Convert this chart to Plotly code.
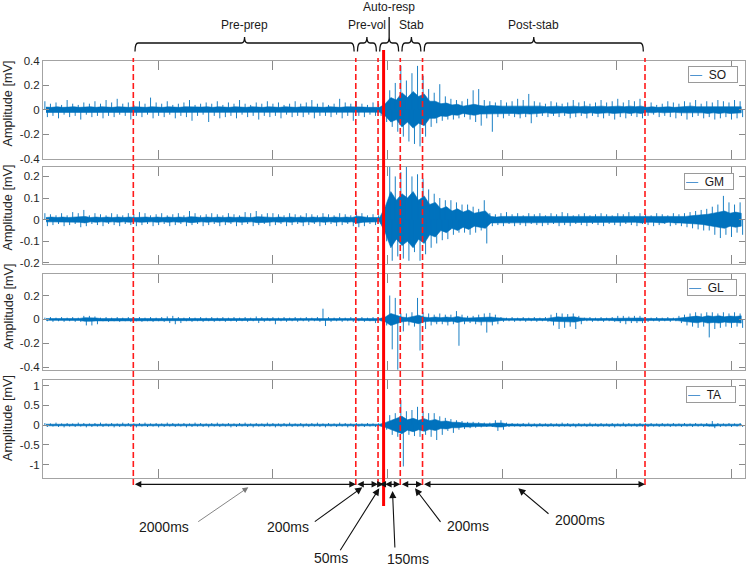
import plotly.graph_objects as go

# ---------------- data ----------------
# time axis in ms, 0 = movement onset (solid red line); EMG given per 50 ms bin:
# *_HI / *_LO = spike extremes in the bin, *_CORE = half-width of the dense core band
BIN_START_MS = -3060
BIN_MS = 50
X_RANGE = [-3062, 3249]
X_TICKS = [-2025, -995, 35, 1065, 2095, 3125]

BOUNDS = [-2250, -250, -50, 0, 150, 350, 2350]
PHASES = ["Pre-prep", "Pre-vol", "Auto-resp", "Stab", "Post-stab"]
PHASE_SPANS = [(-2250, -250), (-250, -50), (-50, 150), (150, 350), (350, 2350)]
DURATIONS = ["2000ms", "200ms", "50ms", "150ms", "200ms", "2000ms"]

MUSCLES = ["SO", "GM", "GL", "TA"]

SO_HI = [0.07,0.05,0.06,0.04,0.08,0.05,0.04,0.06,0.05,0.07,
         0.05,0.08,0.06,0.09,0.05,0.06,0.04,0.07,0.05,0.10,
         0.06,0.05,0.07,0.04,0.05,0.06,0.08,0.04,0.05,0.06,
         0.05,0.07,0.04,0.06,0.05,0.08,0.05,0.04,0.06,0.05,
         0.07,0.05,0.06,0.04,0.05,0.07,0.05,0.06,0.08,0.05,
         0.06,0.04,0.05,0.09,0.06,0.05,0.07,0.05,0.04,0.06,
         0.05,0.10,0.16,0.22,0.36,0.24,0.30,0.36,0.28,0.17,
         0.14,0.21,0.11,0.09,0.08,0.07,0.09,0.16,0.17,0.08,
         0.07,0.06,0.08,0.06,0.07,0.09,0.08,0.13,0.07,0.06,
         0.05,0.07,0.06,0.05,0.06,0.08,0.06,0.07,0.05,0.06,
         0.08,0.06,0.07,0.09,0.06,0.08,0.07,0.09,0.05,0.06,
         0.04,0.05,0.07,0.06,0.05,0.07,0.06,0.08,0.05,0.07,
         0.06,0.08,0.07,0.06,0.08,0.07]
SO_LO = [-0.06,-0.05,-0.07,-0.04,-0.06,-0.05,-0.08,-0.04,-0.06,-0.05,
         -0.07,-0.05,-0.06,-0.04,-0.05,-0.08,-0.05,-0.06,-0.04,-0.07,
         -0.05,-0.06,-0.04,-0.07,-0.05,-0.06,-0.09,-0.05,-0.04,-0.10,
         -0.05,-0.07,-0.06,-0.05,-0.07,-0.04,-0.06,-0.05,-0.08,-0.05,
         -0.06,-0.05,-0.07,-0.04,-0.06,-0.05,-0.06,-0.04,-0.07,-0.05,
         -0.05,-0.06,-0.04,-0.07,-0.05,-0.09,-0.05,-0.06,-0.04,-0.05,
         -0.05,-0.10,-0.14,-0.18,-0.22,-0.26,-0.28,-0.30,-0.22,-0.14,
         -0.11,-0.09,-0.08,-0.08,-0.07,-0.06,-0.08,-0.10,-0.13,-0.07,
         -0.18,-0.06,-0.07,-0.05,-0.06,-0.07,-0.06,-0.11,-0.06,-0.05,
         -0.06,-0.05,-0.06,-0.05,-0.07,-0.06,-0.05,-0.07,-0.05,-0.06,
         -0.07,-0.05,-0.08,-0.06,-0.07,-0.05,-0.06,-0.07,-0.05,-0.04,
         -0.06,-0.05,-0.06,-0.07,-0.05,-0.08,-0.06,-0.05,-0.07,-0.06,
         -0.08,-0.07,-0.06,-0.08,-0.07,-0.06]
SO_CORE = [0.022,0.02,0.025,0.02,0.022,0.025,0.02,0.022,0.025,0.02,
           0.025,0.022,0.02,0.025,0.022,0.02,0.025,0.022,0.02,0.025,
           0.022,0.02,0.025,0.022,0.02,0.025,0.022,0.02,0.022,0.025,
           0.02,0.025,0.022,0.02,0.025,0.022,0.02,0.025,0.022,0.02,
           0.025,0.022,0.02,0.025,0.022,0.02,0.025,0.022,0.02,0.022,
           0.02,0.025,0.022,0.02,0.025,0.022,0.02,0.022,0.02,0.02,
           0.02,0.05,0.10,0.08,0.14,0.10,0.15,0.11,0.13,0.07,
           0.07,0.05,0.055,0.04,0.045,0.03,0.04,0.045,0.035,0.03,
           0.035,0.03,0.03,0.03,0.03,0.035,0.03,0.035,0.03,0.03,
           0.025,0.03,0.03,0.025,0.03,0.03,0.025,0.03,0.025,0.03,
           0.03,0.025,0.03,0.03,0.025,0.03,0.025,0.03,0.02,0.025,
           0.02,0.025,0.025,0.02,0.025,0.025,0.03,0.025,0.025,0.03,
           0.025,0.03,0.025,0.03,0.03,0.025]

GM_HI = [0.03,0.025,0.02,0.03,0.02,0.035,0.03,0.045,0.02,0.03,
         0.025,0.02,0.03,0.025,0.02,0.03,0.025,0.035,0.03,0.02,
         0.025,0.03,0.02,0.025,0.03,0.02,0.04,0.03,0.02,0.025,
         0.03,0.025,0.02,0.03,0.025,0.02,0.035,0.03,0.04,0.025,
         0.03,0.03,0.025,0.02,0.03,0.025,0.02,0.03,0.025,0.02,
         0.03,0.025,0.02,0.03,0.025,0.02,0.037,0.03,0.02,0.025,
         0.02,0.10,0.25,0.20,0.22,0.25,0.20,0.21,0.19,0.14,
         0.12,0.10,0.09,0.09,0.08,0.07,0.07,0.06,0.05,0.09,
         0.03,0.025,0.03,0.035,0.025,0.03,0.02,0.03,0.025,0.03,
         0.02,0.03,0.025,0.035,0.03,0.02,0.025,0.03,0.02,0.025,
         0.03,0.025,0.02,0.03,0.025,0.035,0.02,0.03,0.025,0.02,
         0.03,0.025,0.02,0.03,0.025,0.03,0.035,0.04,0.045,0.05,
         0.06,0.07,0.11,0.08,0.07,0.08]
GM_LO = [-0.03,-0.025,-0.02,-0.03,-0.025,-0.02,-0.035,-0.03,-0.02,-0.025,
         -0.03,-0.02,-0.025,-0.03,-0.02,-0.025,-0.03,-0.025,-0.02,-0.03,
         -0.025,-0.02,-0.03,-0.025,-0.02,-0.03,-0.025,-0.02,-0.03,-0.025,
         -0.02,-0.03,-0.025,-0.02,-0.03,-0.025,-0.02,-0.03,-0.025,-0.02,
         -0.03,-0.025,-0.02,-0.03,-0.025,-0.02,-0.03,-0.025,-0.02,-0.03,
         -0.025,-0.02,-0.03,-0.025,-0.02,-0.03,-0.035,-0.03,-0.02,-0.025,
         -0.02,-0.10,-0.19,-0.17,-0.18,-0.19,-0.15,-0.19,-0.16,-0.13,
         -0.11,-0.095,-0.09,-0.07,-0.06,-0.06,-0.07,-0.06,-0.05,-0.11,
         -0.03,-0.025,-0.03,-0.02,-0.03,-0.025,-0.03,-0.02,-0.025,-0.03,
         -0.025,-0.02,-0.03,-0.025,-0.03,-0.02,-0.025,-0.03,-0.02,-0.025,
         -0.03,-0.02,-0.025,-0.03,-0.02,-0.025,-0.03,-0.02,-0.025,-0.03,
         -0.025,-0.02,-0.03,-0.025,-0.03,-0.035,-0.04,-0.045,-0.05,-0.05,
         -0.07,-0.085,-0.07,-0.08,-0.06,-0.07]
GM_CORE = [0.01,0.012,0.01,0.012,0.01,0.012,0.012,0.015,0.01,0.012,
           0.01,0.012,0.01,0.012,0.01,0.012,0.01,0.012,0.012,0.01,
           0.012,0.01,0.012,0.01,0.012,0.01,0.014,0.012,0.01,0.012,
           0.01,0.012,0.01,0.012,0.01,0.012,0.012,0.01,0.014,0.012,
           0.012,0.01,0.012,0.01,0.012,0.01,0.012,0.01,0.012,0.01,
           0.012,0.01,0.012,0.01,0.012,0.01,0.016,0.012,0.01,0.01,
           0.01,0.06,0.13,0.09,0.12,0.10,0.13,0.09,0.11,0.07,
           0.08,0.05,0.06,0.04,0.05,0.035,0.045,0.03,0.035,0.04,
           0.015,0.012,0.015,0.015,0.012,0.015,0.012,0.015,0.012,0.015,
           0.012,0.015,0.012,0.015,0.012,0.012,0.015,0.012,0.012,0.015,
           0.012,0.015,0.012,0.012,0.015,0.012,0.012,0.015,0.012,0.012,
           0.012,0.015,0.012,0.015,0.015,0.015,0.018,0.02,0.022,0.025,
           0.03,0.035,0.04,0.03,0.035,0.03]

GL_HI = [0.015,0.02,0.015,0.02,0.015,0.02,0.015,0.03,0.03,0.025,
         0.015,0.02,0.015,0.02,0.015,0.02,0.015,0.02,0.015,0.02,
         0.015,0.02,0.025,0.03,0.02,0.015,0.02,0.015,0.02,0.015,
         0.02,0.015,0.02,0.015,0.02,0.015,0.02,0.015,0.025,0.02,
         0.015,0.02,0.015,0.02,0.015,0.02,0.015,0.02,0.015,0.02,
         0.09,0.02,0.015,0.02,0.015,0.02,0.015,0.02,0.015,0.02,
         0.015,0.04,0.20,0.18,0.05,0.05,0.06,0.18,0.06,0.05,
         0.04,0.05,0.04,0.04,0.07,0.04,0.03,0.03,0.04,0.05,
         0.055,0.04,0.02,0.015,0.02,0.015,0.02,0.015,0.02,0.015,
         0.02,0.04,0.055,0.05,0.045,0.05,0.03,0.015,0.02,0.015,
         0.02,0.015,0.02,0.03,0.03,0.025,0.03,0.03,0.02,0.015,
         0.02,0.015,0.02,0.015,0.03,0.04,0.05,0.06,0.05,0.06,
         0.06,0.05,0.06,0.05,0.06,0.05]
GL_LO = [-0.015,-0.02,-0.015,-0.02,-0.015,-0.02,-0.02,-0.05,-0.05,-0.04,
         -0.015,-0.02,-0.015,-0.02,-0.015,-0.02,-0.015,-0.02,-0.015,-0.02,
         -0.015,-0.02,-0.03,-0.04,-0.03,-0.015,-0.02,-0.015,-0.02,-0.015,
         -0.02,-0.015,-0.02,-0.015,-0.02,-0.015,-0.02,-0.015,-0.03,-0.02,
         -0.015,-0.04,-0.015,-0.02,-0.015,-0.02,-0.015,-0.02,-0.015,-0.02,
         -0.055,-0.02,-0.015,-0.02,-0.015,-0.02,-0.015,-0.02,-0.015,-0.03,
         -0.015,-0.05,-0.25,-0.42,-0.10,-0.05,-0.06,-0.26,-0.08,-0.05,
         -0.04,-0.04,-0.05,-0.04,-0.22,-0.04,-0.03,-0.04,-0.05,-0.11,
         -0.05,-0.04,-0.02,-0.015,-0.02,-0.015,-0.02,-0.015,-0.02,-0.015,
         -0.02,-0.05,-0.08,-0.07,-0.06,-0.08,-0.04,-0.015,-0.02,-0.015,
         -0.02,-0.015,-0.02,-0.03,-0.04,-0.03,-0.03,-0.03,-0.02,-0.015,
         -0.02,-0.015,-0.02,-0.015,-0.03,-0.05,-0.06,-0.07,-0.06,-0.15,
         -0.08,-0.07,-0.06,-0.07,-0.06,-0.07]
GL_CORE = [0.007,0.007,0.007,0.008,0.007,0.007,0.008,0.015,0.015,0.012,
           0.007,0.008,0.007,0.007,0.008,0.007,0.007,0.008,0.007,0.007,
           0.007,0.008,0.012,0.012,0.01,0.007,0.008,0.007,0.007,0.008,
           0.007,0.007,0.008,0.007,0.007,0.008,0.007,0.007,0.01,0.008,
           0.007,0.01,0.007,0.008,0.007,0.007,0.008,0.007,0.007,0.008,
           0.012,0.007,0.007,0.008,0.007,0.007,0.008,0.007,0.008,0.01,
           0.007,0.02,0.05,0.035,0.02,0.015,0.025,0.035,0.02,0.015,
           0.02,0.015,0.02,0.015,0.025,0.015,0.012,0.015,0.02,0.018,
           0.02,0.015,0.008,0.007,0.008,0.007,0.008,0.007,0.008,0.007,
           0.008,0.015,0.022,0.018,0.02,0.022,0.012,0.007,0.008,0.007,
           0.008,0.007,0.008,0.012,0.01,0.012,0.01,0.012,0.008,0.007,
           0.008,0.007,0.008,0.007,0.012,0.018,0.022,0.028,0.02,0.03,
           0.025,0.03,0.022,0.028,0.025,0.03]

TA_HI = [0.05,0.04,0.06,0.04,0.05,0.04,0.06,0.05,0.04,0.05,
         0.06,0.04,0.05,0.04,0.06,0.05,0.04,0.05,0.06,0.04,
         0.05,0.04,0.06,0.05,0.04,0.05,0.04,0.06,0.05,0.04,
         0.05,0.06,0.04,0.05,0.04,0.05,0.06,0.04,0.05,0.04,
         0.06,0.05,0.04,0.05,0.06,0.04,0.05,0.04,0.05,0.06,
         0.04,0.05,0.04,0.06,0.05,0.04,0.05,0.04,0.05,0.04,
         0.04,0.12,0.25,0.30,0.63,0.35,0.38,0.46,0.35,0.30,
         0.30,0.22,0.18,0.15,0.12,0.10,0.08,0.08,0.07,0.06,
         0.06,0.12,0.12,0.06,0.05,0.04,0.05,0.06,0.04,0.05,
         0.04,0.05,0.04,0.06,0.05,0.04,0.05,0.04,0.06,0.04,
         0.05,0.04,0.05,0.04,0.06,0.05,0.04,0.05,0.04,0.05,
         0.04,0.05,0.04,0.05,0.04,0.05,0.04,0.05,0.04,0.05,
         0.10,0.05,0.04,0.05,0.04,0.05]
TA_LO = [-0.05,-0.04,-0.05,-0.06,-0.04,-0.05,-0.04,-0.06,-0.05,-0.04,
         -0.05,-0.04,-0.06,-0.05,-0.04,-0.05,-0.06,-0.04,-0.05,-0.04,
         -0.06,-0.05,-0.04,-0.05,-0.04,-0.06,-0.05,-0.04,-0.05,-0.06,
         -0.04,-0.05,-0.04,-0.06,-0.05,-0.04,-0.05,-0.06,-0.04,-0.05,
         -0.04,-0.06,-0.05,-0.04,-0.05,-0.04,-0.06,-0.05,-0.04,-0.05,
         -0.06,-0.04,-0.05,-0.04,-0.06,-0.05,-0.04,-0.05,-0.04,-0.05,
         -0.04,-0.12,-0.25,-0.30,-1.05,-0.25,-0.28,-0.30,-0.25,-0.30,
         -0.38,-0.25,-0.15,-0.20,-0.12,-0.10,-0.08,-0.07,-0.06,-0.05,
         -0.05,-0.15,-0.12,-0.05,-0.04,-0.05,-0.04,-0.05,-0.06,-0.04,
         -0.05,-0.04,-0.05,-0.04,-0.05,-0.06,-0.04,-0.05,-0.04,-0.05,
         -0.04,-0.05,-0.06,-0.04,-0.05,-0.04,-0.05,-0.04,-0.05,-0.04,
         -0.05,-0.04,-0.05,-0.04,-0.05,-0.04,-0.05,-0.04,-0.05,-0.04,
         -0.08,-0.05,-0.04,-0.05,-0.04,-0.05]
TA_CORE = [0.02,0.018,0.02,0.02,0.018,0.02,0.02,0.018,0.02,0.02,
           0.018,0.02,0.02,0.018,0.02,0.02,0.018,0.02,0.02,0.018,
           0.02,0.02,0.018,0.02,0.02,0.018,0.02,0.02,0.018,0.02,
           0.02,0.018,0.02,0.02,0.018,0.02,0.02,0.018,0.02,0.02,
           0.018,0.02,0.02,0.018,0.02,0.02,0.018,0.02,0.02,0.018,
           0.02,0.02,0.018,0.02,0.02,0.018,0.02,0.02,0.018,0.02,
           0.02,0.06,0.12,0.16,0.22,0.13,0.17,0.12,0.16,0.11,
           0.14,0.09,0.10,0.07,0.07,0.05,0.05,0.04,0.04,0.03,
           0.03,0.05,0.05,0.025,0.02,0.02,0.02,0.02,0.02,0.02,
           0.02,0.018,0.02,0.02,0.018,0.02,0.02,0.018,0.02,0.02,
           0.018,0.02,0.02,0.018,0.02,0.02,0.018,0.02,0.02,0.018,
           0.02,0.02,0.018,0.02,0.02,0.018,0.02,0.02,0.018,0.02,
           0.03,0.02,0.02,0.02,0.018,0.02]

Y_RANGES = [[-0.4, 0.4], [-0.205, 0.245], [-0.425, 0.38], [-1.335, 1.14]]
Y_TICKS = [[-0.4, -0.2, 0, 0.2, 0.4], [-0.2, -0.1, 0, 0.1, 0.2],
           [-0.4, -0.2, 0, 0.2], [-1, -0.5, 0, 0.5, 1]]
Y_TICKTEXT = [["-0.4", "-0.2", "0", "0.2", "0.4"], ["-0.2", "-0.1", "0", "0.1", "0.2"],
              ["-0.4", "-0.2", "0", "0.2"], ["-1", "-0.5", "0", "0.5", "1"]]
SERIES = [(SO_HI, SO_LO, SO_CORE), (GM_HI, GM_LO, GM_CORE),
          (GL_HI, GL_LO, GL_CORE), (TA_HI, TA_LO, TA_CORE)]

# ---------------- layout helpers ----------------
W, H = 747, 566
def py(p):  # pixel row -> paper y
    return 1 - p / H

X_DOMAIN = [43 / W, 745 / W]
Y_DOMAINS_PX = [(61, 158.6), (166.7, 264), (274, 370.3), (380, 477.7)]
YTITLE_PX = [103.5, 207.5, 306.5, 418]
LEGEND_PX = [(712.5, 74.2), (709, 181.2), (712.4, 287), (710.9, 394.2)]

BLUE = "#0072BD"
AXC = "#a3a3a3"
TXT = "#262626"
FONT = "Liberation Sans, Arial, sans-serif"

def spikes(hi, lo):
    xs, ys = [], []
    for i, (h, l) in enumerate(zip(hi, lo)):
        t = BIN_START_MS + i * BIN_MS
        xa, xb = t + BIN_MS * 0.3, t + BIN_MS * 0.75
        xs += [xa, xa, None, xb, xb, None]
        ys += [0, h, None, 0, l, None]
    return xs, ys

def core_band(core):
    xc = [BIN_START_MS + (i + 0.5) * BIN_MS for i in range(len(core))]
    return xc + xc[::-1], list(core) + [-c for c in core[::-1]]

fig = go.Figure()
for k, (name, (hi, lo, core)) in enumerate(zip(MUSCLES, SERIES)):
    sfx = "" if k == 0 else str(k + 1)
    cx, cy = core_band(core)
    fig.add_trace(go.Scatter(x=cx, y=cy, mode="lines", fill="toself", fillcolor=BLUE,
                             line=dict(color=BLUE, width=0.6), name=name,
                             xaxis="x" + sfx, yaxis="y" + sfx, showlegend=False,
                             hoverinfo="skip"))
    sx, sy = spikes(hi, lo)
    fig.add_trace(go.Scatter(x=sx, y=sy, mode="lines", name=name, connectgaps=False,
                             line=dict(color=BLUE, width=0.9),
                             xaxis="x" + sfx, yaxis="y" + sfx, showlegend=False,
                             hoverinfo="skip"))

layout = dict(width=W, height=H, margin=dict(l=0, r=0, t=0, b=0),
              paper_bgcolor="white", plot_bgcolor="white", template="none",
              showlegend=False, font=dict(family=FONT, color=TXT))
for k in range(4):
    sfx = "" if k == 0 else str(k + 1)
    top, bot = Y_DOMAINS_PX[k]
    layout["xaxis" + sfx] = dict(domain=X_DOMAIN, range=X_RANGE, anchor="y" + sfx,
                                 showline=True, linecolor=AXC, linewidth=1, mirror="ticks",
                                 ticks="inside", ticklen=9, tickcolor="#8a8a8a",
                                 tickvals=X_TICKS, showticklabels=False,
                                 showgrid=False, zeroline=False, fixedrange=True)
    layout["yaxis" + sfx] = dict(domain=[py(bot), py(top)], range=Y_RANGES[k], anchor="x" + sfx,
                                 showline=True, linecolor=AXC, linewidth=1, mirror="ticks",
                                 ticks="inside", ticklen=6, tickcolor="#8a8a8a",
                                 tickvals=Y_TICKS[k], ticktext=Y_TICKTEXT[k],
                                 tickfont=dict(size=11.5, color=TXT, family=FONT),
                                 showgrid=False, zeroline=False, fixedrange=True)
fig.update_layout(**layout)

shapes = []
for b in BOUNDS:
    if b == 0:
        shapes.append(dict(type="line", xref="x", yref="paper", x0=b, x1=b,
                           y0=py(506), y1=py(50), line=dict(color="#ff0000", width=3),
                           layer="above"))
    else:
        shapes.append(dict(type="line", xref="x", yref="paper", x0=b, x1=b,
                           y0=py(485), y1=py(58),
                           line=dict(color="#ff1a1a", width=1.6, dash="6px,3px"),
                           layer="above"))

# curly braces over each phase
y_top, y_end, y_tip = py(43), py(51.5), py(37)
r = 28
tips = []
for (a, b) in PHASE_SPANS:
    a2, b2 = a + 15, b - 15
    m = (a + b) / 2
    tips.append(m)
    path = (f"M {a2},{y_end} Q {a2},{y_top} {a2 + r},{y_top} L {m - r},{y_top} "
            f"Q {m},{y_top} {m},{y_tip} Q {m},{y_top} {m + r},{y_top} "
            f"L {b2 - r},{y_top} Q {b2},{y_top} {b2},{y_end}")
    shapes.append(dict(type="path", xref="x", yref="paper", path=path,
                       line=dict(color="#111111", width=1.3)))
shapes.append(dict(type="line", xref="x", yref="paper", x0=tips[2], x1=tips[2],
                   y0=y_tip, y1=py(17), line=dict(color="#111111", width=1.3)))
fig.update_layout(shapes=shapes)

ann = []
label_y = [25, 25, 7.5, 25, 25]
for name, m, ly in zip(PHASES, tips, label_y):
    ann.append(dict(text=name, x=m, y=py(ly), xref="x", yref="paper", showarrow=False,
                    xanchor="center", yanchor="middle",
                    font=dict(size=12, color="#1a1a1a", family=FONT)))

for yp in YTITLE_PX:
    ann.append(dict(text="Amplitude [mV]", x=8 / W, y=py(yp), xref="paper", yref="paper",
                    showarrow=False, textangle=-90, xanchor="center", yanchor="middle",
                    font=dict(size=12.7, color=TXT, family=FONT)))

for name, (lx, ly) in zip(MUSCLES, LEGEND_PX):
    ann.append(dict(text=f"<span style='color:#4f94cf'>\u2014</span>&nbsp;&nbsp;{name}",
                    x=lx / W, y=py(ly), xref="paper", yref="paper", showarrow=False,
                    xanchor="center", yanchor="middle", align="left", width=46, height=13,
                    bordercolor="#9a9a9a", borderwidth=1, borderpad=1, bgcolor="white",
                    font=dict(size=12, color="#1a1a1a", family=FONT)))

# dimension arrows between boundaries
y_dim = py(484.3)
for a, b in zip(BOUNDS[:-1], BOUNDS[1:]):
    ann.append(dict(text="", x=b, y=y_dim, xref="x", yref="paper",
                    ax=a, ay=0, axref="x", ayref="pixel", showarrow=True,
                    arrowhead=2, startarrowhead=2, arrowside="end+start",
                    arrowsize=1, startarrowsize=1, arrowwidth=1.3, arrowcolor="#111111",
                    standoff=0, startstandoff=0))

# callouts: (label, text x ms, text y px, tail x ms, tail y px, head x ms, head y px)
CALLOUTS = [
    (DURATIONS[0], -1974, 527.3, -1680, 522.7, -1216, 487.3, "#777777", 0.9),
    (DURATIONS[1], -859, 527.3, -632, 522.7, -191, 487.3, "#111111", 1.1),
    (DURATIONS[2], -476, 558.3, -398, 551.7, -39, 488.3, "#111111", 1.1),
    (DURATIONS[3], 217, 559.3, 102, 549.0, 80, 491.0, "#111111", 1.1),
    (DURATIONS[4], 759, 526.0, 522, 523.3, 282, 488.3, "#111111", 1.1),
    (DURATIONS[5], 1770, 520.0, 1496, 515.0, 1211, 488.3, "#111111", 1.1),
]
for lab, tx, ty, ax_, ay_, hx, hy, col, lw in CALLOUTS:
    ann.append(dict(text="", x=hx, y=py(hy), xref="x", yref="paper",
                    ax=ax_, ay=ay_ - hy, axref="x", ayref="pixel", showarrow=True,
                    arrowhead=2, arrowsize=1.3, arrowwidth=lw, arrowcolor=col, standoff=0))
    ann.append(dict(text=lab, x=tx, y=py(ty), xref="x", yref="paper", showarrow=False,
                    xanchor="center", yanchor="middle",
                    font=dict(size=14, color="#1a1a1a", family=FONT)))

fig.update_layout(annotations=ann)
fig.write_html("out.html")
